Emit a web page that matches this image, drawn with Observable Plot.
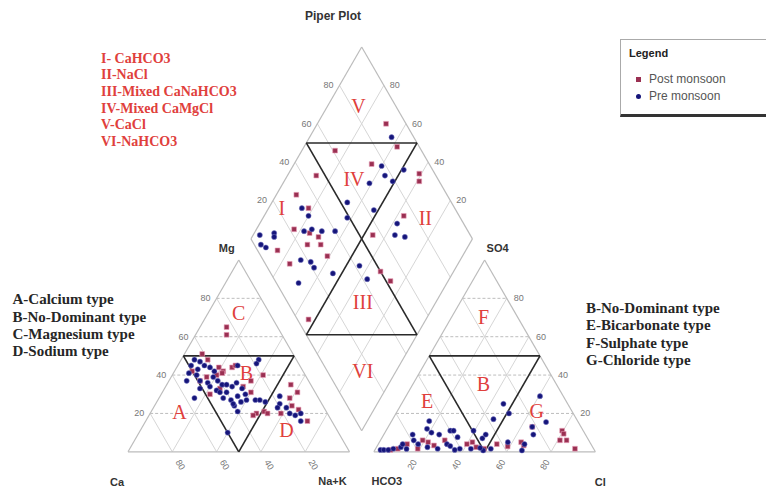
<!DOCTYPE html>
<html><head><meta charset="utf-8">
<script src="https://cdn.jsdelivr.net/npm/d3@7"></script>
<script src="https://cdn.jsdelivr.net/npm/@observablehq/plot@0.6"></script>
<style>
body{margin:0;background:#fff;}
#wrap{position:relative;width:766px;height:490px;overflow:hidden;background:#fff;}
.ov{position:absolute;white-space:nowrap;}
.red{color:#e0403c;font:bold 14px "Liberation Serif",serif;line-height:16.7px;}
.blk{color:#262626;font:bold 15px "Liberation Serif",serif;line-height:17.4px;}
.lg{font:12px "Liberation Sans",Arial,sans-serif;color:#555;line-height:17px;}
</style></head><body>
<div id="wrap">
  <div class="ov" style="left:283px;top:9px;width:100px;text-align:center;font:bold 12px 'Liberation Sans',Arial,sans-serif;color:#333;line-height:15px;">Piper Plot</div>
  <div class="ov red" style="left:101px;top:50.6px;">
    <div>I- CaHCO3</div><div>II-NaCl</div><div>III-Mixed CaNaHCO3</div><div>IV-Mixed CaMgCl</div><div>V-CaCl</div><div>VI-NaHCO3</div>
  </div>
  <div class="ov blk" style="left:12.5px;top:291.2px;">
    <div>A-Calcium type</div><div>B-No-Dominant type</div><div>C-Magnesium type</div><div>D-Sodium type</div>
  </div>
  <div class="ov blk" style="left:586px;top:299.7px;">
    <div>B-No-Dominant type</div><div>E-Bicarbonate type</div><div>F-Sulphate type</div><div>G-Chloride type</div>
  </div>
  <div class="ov" style="left:620px;top:39px;width:170px;height:74px;border:1px solid #aaa;border-bottom:3px solid #333;"></div>
  <div class="ov" style="left:629px;top:47px;font:bold 11px 'Liberation Sans',Arial,sans-serif;color:#222;">Legend</div>
  <div class="ov lg" style="left:636px;top:70.5px;"><span style="display:inline-block;width:5px;height:5px;background:#9a3052;margin-right:8px;vertical-align:middle;"></span>Post monsoon</div>
  <div class="ov lg" style="left:636px;top:88px;"><span style="display:inline-block;width:5px;height:5px;border-radius:50%;background:#15157a;margin-right:8px;vertical-align:middle;"></span>Pre monsoon</div>
</div>
<script>
// ---------- data (percent values) ----------
const ticks = [20, 40, 60, 80];

// cation triangle: [Mg %, Na+K %]  (Ca = 100 - Mg - Na+K)
const preCations = [[48,6],[47,9],[45,6],[43,10],[45,12],[44,15],[42,18],[40,11],[37,8],[37,14],[36,18],[39,19],[37,22],[35,25],[35,27],[34,30],[36,31],[33,35],[30,38],[29,35],[31,29],[32,24],[34,20],[33,16],[28,16],[28,29],[27,33],[24,36],[26,38],[27,40],[21,39],[27,44],[27,46],[26,49],[48,35],[46,35],[45,27],[25,56],[23,60],[20,63],[19,66],[20,68],[16,70],[23,56],[10,40],[41,7],[25,35],[31,26],[29,54]];
const postCations = [[65,12],[61,14],[51,8],[48,12],[44,19],[42,22],[40,20],[37,14],[39,16],[44,25],[45,26],[40,41],[37,37],[34,35],[33,25],[30,22],[31,40],[20,48],[21,51],[19,47],[35,56],[31,61],[28,59],[24,62],[22,66],[16,73],[20,59],[20,53],[42,8],[41,22]];

// anion triangle: [SO4 %, Cl %]  (HCO3 = 100 - SO4 - Cl)
const preAnions = [[1,2.5],[1,4],[1.6,8],[2.4,11],[4,11],[9,13],[6,15],[4,18],[12,18],[16,17],[10,21],[9,25],[4,31],[11,29],[11,30.5],[7.6,34],[1.6,38],[11,39.5],[7,45.5],[9,46],[1.6,52],[0.7,49],[17,45.5],[25,46],[20,51],[0.7,66.5],[13,65],[9,67.5],[29,60.5],[15.5,70],[2.4,23],[1.6,28],[1.6,43],[5,58],[4,66],[1,6],[1.5,14],[3,33],[1,36],[2,47]];
const postAnions = [[1,7],[1.6,10],[4,13],[1.6,19],[6,19],[5,22],[3.3,25.5],[6,29],[4,40],[5,42],[2.4,45],[4,53.5],[2.8,59],[5,64],[3.3,66],[13,65],[11,79.5],[9.4,81],[6,81],[6,84],[1.6,90],[1.6,49]];

// diamond: [Ca+Mg %, SO4+Cl %]
const preDiamond = [[63,90],[60,78],[56,77],[51,79],[49,87],[61,68],[66,53],[62,49],[85,31],[80,32],[78,26],[75,30],[70,34],[64,40],[52,63],[38,70],[31,70],[97,5],[91,12],[94,3],[91,4.5],[90,11],[72,17],[67,21],[64,21],[67,10],[54,28],[44,42],[37,42],[36,66]];
const postDiamond = [[69,91],[85,61],[87,46],[91,32],[65,74],[58,90],[41,93],[39,91],[82,34],[83,22],[75,28],[70,31],[37,75],[85,9],[76,11],[73,24],[67,30],[61,30],[33,50],[26,52],[46,56],[53,5]];

// region labels
const cationRegions = [{k:"A",top:20.5,right:13},{k:"B",top:41,right:33},{k:"C",top:72,right:14},{k:"D",top:11,right:66}];
const anionRegions  = [{k:"E",top:26,right:11},{k:"B",top:35,right:32},{k:"F",top:70,right:14.5},{k:"G",top:21,right:63}];
const diamondRegions = [{k:"I",c:94,s:22},{k:"II",c:26.5,s:84},{k:"III",c:33,s:34},{k:"IV",c:69,s:62},{k:"V",c:86,s:83},{k:"VI",c:15,s:16}];

// ---------- geometry ----------
const H = Math.sqrt(3) / 2, L = 100, GAP = 11, RX = L + GAP;
const tri = (ox, r, t) => ({x: ox + r + t / 2, y: t * H});
const dia = (c, s) => ({x: L + GAP / 2 + (s - c) / 2, y: GAP * H + (s + c) * H});
const seg = (a, b) => ({x1: a.x, y1: a.y, x2: b.x, y2: b.y});

const outline = [], grid = [], dashed = [], bold = [];
for (const ox of [0, RX]) {
  outline.push(seg(tri(ox,0,0), tri(ox,100,0)), seg(tri(ox,100,0), tri(ox,0,100)), seg(tri(ox,0,100), tri(ox,0,0)));
  for (const p of ticks) {
    dashed.push(seg(tri(ox,0,p), tri(ox,100-p,p)));
    grid.push(seg(tri(ox,p,0), tri(ox,p,100-p)));
    grid.push(seg(tri(ox,100-p,0), tri(ox,0,100-p)));
  }
  bold.push(seg(tri(ox,0,50), tri(ox,50,50)), seg(tri(ox,50,50), tri(ox,50,0)), seg(tri(ox,50,0), tri(ox,0,50)));
}
outline.push(seg(dia(0,0), dia(100,0)), seg(dia(100,0), dia(100,100)), seg(dia(100,100), dia(0,100)), seg(dia(0,100), dia(0,0)));
for (const p of ticks) {
  grid.push(seg(dia(p,0), dia(p,100)));
  grid.push(seg(dia(0,p), dia(100,p)));
}
bold.push(seg(dia(100,50), dia(50,100)), seg(dia(50,100), dia(50,0)), seg(dia(50,0), dia(0,50)), seg(dia(0,50), dia(100,50)));

const catXY = arr => arr.map(([mg, nak]) => tri(0, nak, mg));
const anXY = arr => arr.map(([so4, cl]) => tri(RX, cl, so4));
const diaXY = arr => arr.map(([c, s]) => dia(c, s));
const postPts = [...catXY(postCations), ...anXY(postAnions), ...diaXY(postDiamond)];
const prePts = [...catXY(preCations), ...anXY(preAnions), ...diaXY(preDiamond)];

const regionLabels = [
  ...cationRegions.map(d => ({...tri(0, d.right, d.top), k: d.k})),
  ...anionRegions.map(d => ({...tri(RX, d.right, d.top), k: d.k})),
  ...diamondRegions.map(d => ({...dia(d.c, d.s), k: d.k}))
];

const tickFont = {fontSize: 9, fill: "#777", fontFamily: "Liberation Sans, Arial, sans-serif"};
const tickMarks = [
  Plot.text(ticks.map(p => ({...tri(0,0,p), t: p})), {x:"x", y:"y", text:"t", dx:-11, ...tickFont}),
  Plot.text(ticks.map(l => ({...tri(0,100-l,0), t: l})), {x:"x", y:"y", text:"t", dx:8, dy:13, rotate:60, ...tickFont}),
  Plot.text(ticks.map(p => ({...tri(RX,100-p,p), t: p})), {x:"x", y:"y", text:"t", dx:12, ...tickFont}),
  Plot.text(ticks.map(r => ({...tri(RX,r,0), t: r})), {x:"x", y:"y", text:"t", dx:-6, dy:13, rotate:-60, ...tickFont}),
  Plot.text(ticks.map(s => ({...dia(100,s), t: s})), {x:"x", y:"y", text:"t", dx:-11, ...tickFont}),
  Plot.text(ticks.map(c => ({...dia(c,100), t: c})), {x:"x", y:"y", text:"t", dx:11, ...tickFont})
];

const vertexLabels = [
  {t:"Mg", ...tri(0,0,100), dx:-12, dy:-12},
  {t:"Ca", ...tri(0,0,0), dx:-11, dy:31},
  {t:"Na+K", ...tri(0,100,0), dx:-17, dy:30},
  {t:"SO4", ...tri(RX,0,100), dx:13, dy:-12},
  {t:"HCO3", ...tri(RX,0,0), dx:13, dy:30},
  {t:"Cl", ...tri(RX,100,0), dx:5, dy:31}
];

const k = 2.215, x0 = -127.5 / k, y1 = 451.3 / k;
const chart = Plot.plot({
  width: 766, height: 490, margin: 0,
  x: {domain: [x0, x0 + 766 / k], axis: null},
  y: {domain: [y1 - 490 / k, y1], axis: null},
  style: {background: "transparent", overflow: "visible"},
  marks: [
    Plot.link(grid, {x1:"x1", y1:"y1", x2:"x2", y2:"y2", stroke:"#d6d6d6", strokeWidth:1}),
    Plot.link(dashed, {x1:"x1", y1:"y1", x2:"x2", y2:"y2", stroke:"#bdbdbd", strokeWidth:1, strokeDasharray:"3,2"}),
    Plot.link(outline, {x1:"x1", y1:"y1", x2:"x2", y2:"y2", stroke:"#bcbcbc", strokeWidth:1.2}),
    Plot.link(bold, {x1:"x1", y1:"y1", x2:"x2", y2:"y2", stroke:"#2a2a2a", strokeWidth:1.6}),
    ...tickMarks,
    ...vertexLabels.map(v => Plot.text([v], {x:"x", y:"y", text:"t", dx:v.dx, dy:v.dy, fontSize:11, fontWeight:"bold", fill:"#333", fontFamily:"Liberation Sans, Arial, sans-serif"})),
    Plot.text(regionLabels, {x:"x", y:"y", text:"k", fontSize:20, fill:"#e0403c", fontFamily:"Liberation Serif, serif"}),
    Plot.dot(postPts, {x:"x", y:"y", symbol:"square", r:2.7, fill:"#9a3052", stroke:"#e9a0b8", strokeWidth:0.6}),
    Plot.dot(prePts, {x:"x", y:"y", symbol:"circle", r:2.6, fill:"#15157a", stroke:"#8080c8", strokeWidth:0.5})
  ]
});
chart.style.position = "absolute";
chart.style.left = "0px";
chart.style.top = "0px";
document.getElementById("wrap").prepend(chart);
</script>
</body></html>
